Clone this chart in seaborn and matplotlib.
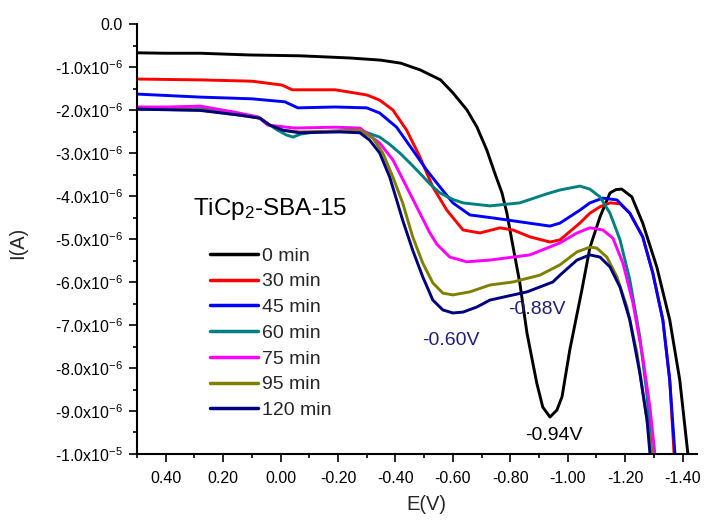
import matplotlib
matplotlib.use("Agg")
import matplotlib.pyplot as plt
import pandas as pd
import seaborn as sns
from matplotlib.ticker import MultipleLocator

# ---------------- data (E in V, I in microampere) ----------------
series_labels = ["0 min", "30 min", "45 min", "60 min", "75 min", "95 min", "120 min"]
series_colors = ["#000000", "#ff0000", "#0000ff", "#008080", "#ff00ff", "#808000", "#000080"]

e_0min = [0.50, 0.40, 0.28, 0.11, -0.07, -0.24, -0.348, -0.418, -0.487, -0.557,
          -0.600, -0.649, -0.684, -0.718, -0.746, -0.771, -0.788, -0.805, -0.833, -0.858,
          -0.892, -0.913, -0.938, -0.962, -0.980, -1.007, -1.049, -1.077, -1.112, -1.147,
          -1.168, -1.188, -1.223, -1.261, -1.310, -1.355, -1.390, -1.418, -1.430]
i_0min = [-0.67, -0.68, -0.68, -0.72, -0.74, -0.79, -0.84, -0.91, -1.07, -1.30,
          -1.60, -2.00, -2.40, -2.93, -3.47, -3.93, -4.40, -5.02, -6.02, -7.19,
          -8.35, -8.91, -9.14, -8.98, -8.67, -7.58, -6.19, -5.20, -4.49, -3.93,
          -3.85, -3.84, -4.02, -4.63, -5.65, -6.88, -8.28, -9.98, -10.3]

e_30min = [0.50, 0.28, 0.10, -0.005, -0.04, -0.19, -0.30, -0.345, -0.391, -0.439,
           -0.485, -0.530, -0.579, -0.635, -0.694, -0.764, -0.809, -0.868, -0.938, -0.973,
           -1.042, -1.077, -1.112, -1.147, -1.182, -1.216, -1.261, -1.296, -1.331, -1.355,
           -1.370, -1.376]
i_30min = [-1.28, -1.30, -1.33, -1.42, -1.53, -1.53, -1.65, -1.77, -2.00, -2.47,
           -3.09, -3.79, -4.33, -4.79, -4.86, -4.74, -4.79, -4.95, -5.07, -5.02,
           -4.63, -4.40, -4.25, -4.16, -4.18, -4.40, -4.95, -5.79, -6.88, -8.28,
           -9.98, -10.3]

e_45min = [0.50, 0.28, 0.10, -0.015, -0.06, -0.19, -0.30, -0.345, -0.404, -0.46,
           -0.509, -0.555, -0.600, -0.659, -0.739, -0.833, -0.938, -0.973, -1.042, -1.077,
           -1.122, -1.171, -1.216, -1.261, -1.296, -1.331, -1.355, -1.373, -1.380]
i_45min = [-1.63, -1.70, -1.74, -1.81, -1.95, -1.93, -1.95, -2.07, -2.40, -2.93,
           -3.40, -3.79, -4.16, -4.44, -4.51, -4.60, -4.70, -4.63, -4.33, -4.16,
           -4.05, -4.09, -4.40, -4.95, -5.79, -6.88, -8.28, -9.98, -10.3]

e_60min = [0.50, 0.28, 0.16, 0.072, 0.038, 0.01, -0.02, -0.043, -0.07, -0.12,
           -0.19, -0.276, -0.345, -0.38, -0.415, -0.45, -0.485, -0.52, -0.555, -0.60,
           -0.635, -0.729, -0.833, -0.927, -0.973, -1.042, -1.077, -1.112, -1.147, -1.182,
           -1.216, -1.251, -1.275, -1.293, -1.300]
i_60min = [-1.98, -1.97, -2.07, -2.19, -2.35, -2.47, -2.58, -2.63, -2.56, -2.51,
           -2.49, -2.47, -2.63, -2.80, -3.00, -3.23, -3.47, -3.72, -3.93, -4.08,
           -4.16, -4.23, -4.16, -3.95, -3.86, -3.77, -3.84, -4.02, -4.40, -5.02,
           -5.95, -7.28, -8.58, -9.98, -10.3]

e_75min = [0.50, 0.393, 0.28, 0.16, 0.079, 0.045, -0.049, -0.189, -0.276, -0.345,
           -0.391, -0.439, -0.485, -0.519, -0.544, -0.589, -0.648, -0.729, -0.868, -0.973,
           -1.032, -1.077, -1.122, -1.157, -1.192, -1.227, -1.261, -1.286, -1.303, -1.308]
i_75min = [-1.93, -1.93, -1.91, -2.05, -2.16, -2.35, -2.42, -2.40, -2.42, -2.77,
           -3.16, -3.79, -4.40, -4.85, -5.12, -5.42, -5.53, -5.49, -5.37, -5.09,
           -4.86, -4.74, -4.79, -4.98, -5.56, -6.49, -7.74, -8.91, -9.98, -10.3]

e_95min = [0.50, 0.28, 0.142, 0.072, 0.038, -0.008, -0.066, -0.206, -0.276, -0.321,
           -0.356, -0.391, -0.425, -0.46, -0.495, -0.53, -0.565, -0.60, -0.659, -0.729,
           -0.809, -0.903, -0.973, -1.032, -1.077, -1.101, -1.136, -1.171, -1.206, -1.241,
           -1.269, -1.293, -1.300]
i_95min = [-1.98, -2.00, -2.12, -2.19, -2.35, -2.47, -2.51, -2.49, -2.47, -2.65,
           -3.00, -3.56, -4.16, -4.95, -5.56, -6.02, -6.26, -6.30, -6.23, -6.07,
           -6.00, -5.84, -5.60, -5.30, -5.19, -5.21, -5.42, -5.88, -6.58, -7.65,
           -8.91, -9.98, -10.3]

e_120min = [0.50, 0.28, 0.142, 0.072, 0.038, -0.008, -0.066, -0.206, -0.276, -0.31,
            -0.345, -0.38, -0.404, -0.425, -0.46, -0.495, -0.53, -0.565, -0.60, -0.635,
            -0.684, -0.729, -0.858, -0.948, -0.973, -1.032, -1.077, -1.112, -1.147, -1.182,
            -1.216, -1.251, -1.276, -1.286, -1.290]
i_120min = [-1.98, -2.01, -2.12, -2.19, -2.35, -2.47, -2.53, -2.51, -2.53, -2.70,
            -3.00, -3.56, -4.09, -4.56, -5.26, -5.88, -6.42, -6.65, -6.72, -6.70,
            -6.58, -6.42, -6.23, -6.00, -5.84, -5.49, -5.37, -5.42, -5.65, -6.12,
            -6.88, -8.12, -9.21, -9.98, -10.3]

x_ticks = [0.40, 0.20, 0.00, -0.20, -0.40, -0.60, -0.80, -1.00, -1.20, -1.40]
x_tick_labels = ["0.40", "0.20", "0.00", "-0.20", "-0.40", "-0.60", "-0.80", "-1.00", "-1.20", "-1.40"]
y_ticks = [0.0, -1e-6, -2e-6, -3e-6, -4e-6, -5e-6, -6e-6, -7e-6, -8e-6, -9e-6, -1e-5]
y_tick_labels = ["0.0", r"-1.0x10$^{-6}$", r"-2.0x10$^{-6}$", r"-3.0x10$^{-6}$", r"-4.0x10$^{-6}$",
                 r"-5.0x10$^{-6}$", r"-6.0x10$^{-6}$", r"-7.0x10$^{-6}$", r"-8.0x10$^{-6}$",
                 r"-9.0x10$^{-6}$", r"-1.0x10$^{-5}$"]

legend_title = r"TiCp$_2$-SBA-15"
peak_labels = ["-0.60V", "-0.88V", "-0.94V"]
peak_e = [-0.593, -0.893, -0.952]
peak_i = [-7.35, -6.65, -9.58]
peak_colors = ["#1f1f7f", "#1f1f7f", "#000000"]

# ---------------- build long table ----------------
all_e = [e_0min, e_30min, e_45min, e_60min, e_75min, e_95min, e_120min]
all_i = [i_0min, i_30min, i_45min, i_60min, i_75min, i_95min, i_120min]
rows = []
for lab, es, is_ in zip(series_labels, all_e, all_i):
    for e, i in zip(es, is_):
        rows.append({"series": lab, "E": e, "I": i * 1e-6})
df = pd.DataFrame(rows)

# ---------------- style ----------------
sns.set_theme(style="ticks")
plt.rcParams["font.family"] = ["Liberation Sans", "DejaVu Sans"]
plt.rcParams["mathtext.fontset"] = "custom"
plt.rcParams["mathtext.rm"] = "Liberation Sans"
plt.rcParams["mathtext.it"] = "Liberation Sans"
plt.rcParams["mathtext.default"] = "regular"

W, H = 707, 521
fig = plt.figure(figsize=(W / 100, H / 100), dpi=100)
ax = fig.add_axes([137 / W, 1 - 454 / H, 560 / W, 430 / H])

palette = dict(zip(series_labels, series_colors))
sns.lineplot(data=df, x="E", y="I", hue="series", hue_order=series_labels, palette=palette,
             sort=False, estimator=None, units="series", linewidth=2.1, ax=ax)

ax.set_xlim(0.5, -1.45)
ax.set_ylim(-1e-5, 0)
ax.set_xticks(x_ticks, labels=x_tick_labels)
ax.set_yticks(y_ticks, labels=y_tick_labels)
ax.xaxis.set_minor_locator(MultipleLocator(0.1))
ax.yaxis.set_minor_locator(MultipleLocator(0.5e-6))
ax.tick_params(which="major", direction="out", length=6, width=1.2, labelsize=11.5, pad=4,
               color="black", labelcolor="black")
ax.tick_params(axis="x", which="major", pad=6)
ax.tick_params(which="minor", direction="out", length=3.2, width=1.2, color="black")
for s in ["top", "right"]:
    ax.spines[s].set_visible(False)
for s in ["left", "bottom"]:
    ax.spines[s].set_linewidth(1.5)
    ax.spines[s].set_color("black")

ax.set_xlabel("E(V)", fontsize=14.5)
ax.set_ylabel("I(A)", fontsize=14.5)
ax.xaxis.set_label_coords((426 - 137) / 560, -(505 - 454) / 430)
ax.yaxis.set_label_coords(-(137 - 18) / 560, 0.49)
ax.xaxis.label.set_va("center")
ax.yaxis.label.set_va("center")

handles, labels = ax.get_legend_handles_labels()
leg = ax.legend(handles, labels, loc="upper left",
                bbox_to_anchor=((210 - 137) / 560, (454 - 247) / 430),
                frameon=False, fontsize=14, handlelength=2.45, handletextpad=0.25,
                labelspacing=0.42, borderpad=0, borderaxespad=0)
for h in leg.get_lines():
    h.set_linewidth(2.5)

ax.text((193 - 137) / 560, (454 - 215) / 430, legend_title, transform=ax.transAxes,
        fontsize=17.5, ha="left", va="baseline", color="black")

for lab, e, i, c in zip(peak_labels, peak_e, peak_i, peak_colors):
    ax.text(e, i * 1e-6, lab, fontsize=14, color=c, ha="center", va="center")

fig.savefig("out.png", dpi=100)
